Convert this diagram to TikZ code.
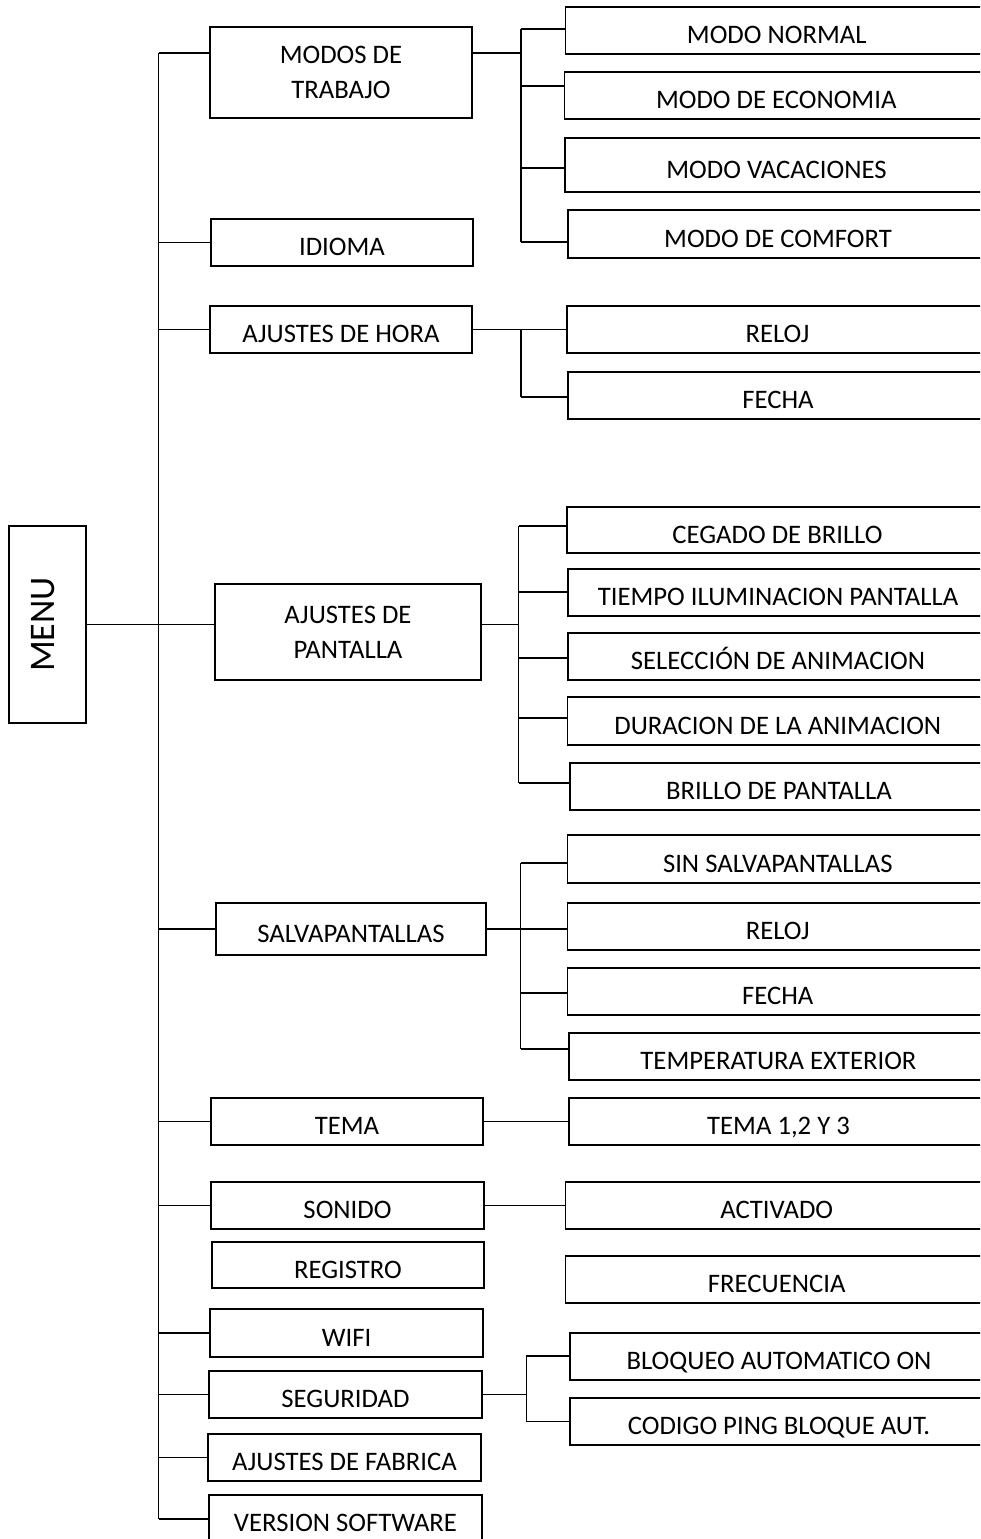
\documentclass[tikz,border=0pt]{standalone}
\usepackage{fontspec}
\setmainfont{Carlito}
\newcommand\bxfont{\fontsize{26.7}{35}\selectfont}
% style, name, x1, y1, x2, y2, text
\newcommand\mkbox[7]{%
  \node[#1, minimum width={#5-#3}, minimum height={#6-#4}] (#2) at ({(#3+#5)/2},{(#4+#6)/2}) {#7};}
\tikzset{
  bx/.style={draw=black, line width=1.7pt, rectangle, inner sep=0pt, font=\bxfont},
  one/.style={bx, text height=26pt, text depth=0pt},
  two/.style={bx, align=center},
  ln/.style={draw=black, line width=1.2pt},
}
\begin{document}
\begin{tikzpicture}[x=1pt,y=-1pt]
\useasboundingbox (0,0) rectangle (980,1539);
\clip (0,0) rectangle (980,1539);

% root
\node[draw=black, line width=1.7pt, rotate=90, minimum width=197pt, minimum height=77pt,
      inner sep=0pt, font=\fontsize{36}{40}\selectfont, text height=14.4pt, text depth=0pt]
      (menu) at (47.5,624.5) {MENU};

% level 1
\mkbox{two}{m1}{210}{27}{472}{118}{MODOS DE\\TRABAJO}
\mkbox{one}{m2}{211}{219}{473}{266}{IDIOMA}
\mkbox{one}{m3}{210}{306}{472}{353}{AJUSTES DE HORA}
\mkbox{two}{m4}{215}{584}{481}{680}{AJUSTES DE\\PANTALLA}
\mkbox{one}{m5}{216}{903}{486}{955}{SALVAPANTALLAS}
\mkbox{one}{m6}{211}{1098}{483}{1145}{TEMA}
\mkbox{one}{m7}{211}{1182}{484}{1229}{SONIDO}
\mkbox{one}{m8}{212}{1242}{484}{1288}{REGISTRO}
\mkbox{one}{m9}{210}{1309}{483}{1357}{WIFI}
\mkbox{one}{m10}{209}{1371}{482}{1418}{SEGURIDAD}
\mkbox{one}{m11}{208}{1434}{481}{1481}{AJUSTES DE FABRICA}
\mkbox{one}{m12}{209}{1495}{482}{1542}{VERSION SOFTWARE}

% level 2
\mkbox{one}{a1}{565.5}{7}{988}{54}{MODO NORMAL}
\mkbox{one}{a2}{564.5}{72}{988}{119}{MODO DE ECONOMIA}
\mkbox{one}{a3}{565}{138}{988}{192}{MODO VACACIONES}
\mkbox{one}{a4}{568}{210}{988}{258}{MODO DE COMFORT}
\mkbox{one}{b1}{567}{306}{988}{353}{RELOJ}
\mkbox{one}{b2}{568}{372}{988}{419}{FECHA}
\mkbox{one}{c1}{567}{507}{988}{553}{CEGADO DE BRILLO}
\mkbox{one}{c2}{568}{569}{988}{616}{TIEMPO ILUMINACION PANTALLA}
\mkbox{one}{c3}{568}{633}{988}{680}{SELECCIÓN DE ANIMACION}
\mkbox{one}{c4}{567.5}{697}{988}{745}{DURACION DE LA ANIMACION}
\mkbox{one}{c5}{570}{763}{988}{810}{BRILLO DE PANTALLA}
\mkbox{one}{d1}{567.5}{835}{988}{883}{SIN SALVAPANTALLAS}
\mkbox{one}{d2}{567.5}{903}{988}{950}{RELOJ}
\mkbox{one}{d3}{567.5}{968}{988}{1015}{FECHA}
\mkbox{one}{d4}{569}{1033}{988}{1080}{TEMPERATURA EXTERIOR}
\mkbox{one}{e1}{569}{1098}{988}{1145}{TEMA 1,2 Y 3}
\mkbox{one}{f1}{565.5}{1182}{988}{1229}{ACTIVADO}
\mkbox{one}{f2}{565.5}{1256}{988}{1303}{FRECUENCIA}
\mkbox{one}{g1}{570}{1333}{988}{1380}{BLOQUEO AUTOMATICO ON}
\mkbox{one}{g2}{570}{1398}{988}{1445}{CODIGO PING BLOQUE AUT.}

% spine
\coordinate (spT) at (158.5,53);
\coordinate (spB) at (158.5,1519);
\draw[ln] (spT) -- (spB);
\draw[ln] (spT) -- (m1.west |- spT);
\foreach \n in {m2,m3,m5,m6,m7,m9,m10,m11}
  \draw[ln] (\n.west -| spT) -- (\n.west);
\draw[ln] (spB) -- (m12.west |- spB);
\draw[ln] (menu.south) -- (m4.west |- menu.south);

% group A
\coordinate (ja) at (521,53);
\coordinate (jaT) at (521,29);
\coordinate (ya2) at (521,86);
\coordinate (ya3) at (521,168);
\coordinate (jaB) at (521,242);
\draw[ln] (m1.east |- spT) -- (ja);
\draw[ln] (jaT) -- (jaB);
\draw[ln] (jaT) -- (a1.west |- jaT);
\draw[ln] (ya2) -- (a2.west |- ya2);
\draw[ln] (ya3) -- (a3.west |- ya3);
\draw[ln] (jaB) -- (a4.west |- jaB);

% group B
\coordinate (jb) at (521,329.5);
\coordinate (jbB) at (521,397);
\draw[ln] (m3.east) -- (b1.west);
\draw[ln] (jb) -- (jbB);
\draw[ln] (jbB) -- (b2.west |- jbB);

% group C
\coordinate (jc) at (518.7,624.5);
\coordinate (jcT) at (518.7,526);
\coordinate (yc2) at (518.7,592);
\coordinate (yc3) at (518.7,658);
\coordinate (yc4) at (518.7,718);
\coordinate (jcB) at (518.7,783);
\draw[ln] (m4.east |- jc) -- (jc);
\draw[ln] (jcT) -- (jcB);
\draw[ln] (jcT) -- (c1.west |- jcT);
\draw[ln] (yc2) -- (c2.west |- yc2);
\draw[ln] (yc3) -- (c3.west |- yc3);
\draw[ln] (yc4) -- (c4.west |- yc4);
\draw[ln] (jcB) -- (c5.west |- jcB);

% group D
\coordinate (jdT) at (520.5,863);
\coordinate (yd3) at (520.5,993);
\coordinate (jdB) at (520.5,1049);
\draw[ln] (m5.east) -- (d2.west |- m5.east);
\draw[ln] (jdT) -- (jdB);
\draw[ln] (jdT) -- (d1.west |- jdT);
\draw[ln] (yd3) -- (d3.west |- yd3);
\draw[ln] (jdB) -- (d4.west |- jdB);

% groups E, F
\draw[ln] (m6.east) -- (e1.west |- m6.east);
\draw[ln] (m7.east) -- (f1.west |- m7.east);

% group G
\coordinate (jg) at (526.4,1394.5);
\coordinate (jgT) at (526.4,1356);
\coordinate (jgB) at (526.4,1421.5);
\draw[ln] (m10.east) -- (jg);
\draw[ln] (jgT) -- (jgB);
\draw[ln] (jgT) -- (g1.west |- jgT);
\draw[ln] (jgB) -- (g2.west |- jgB);
\end{tikzpicture}
\end{document}
